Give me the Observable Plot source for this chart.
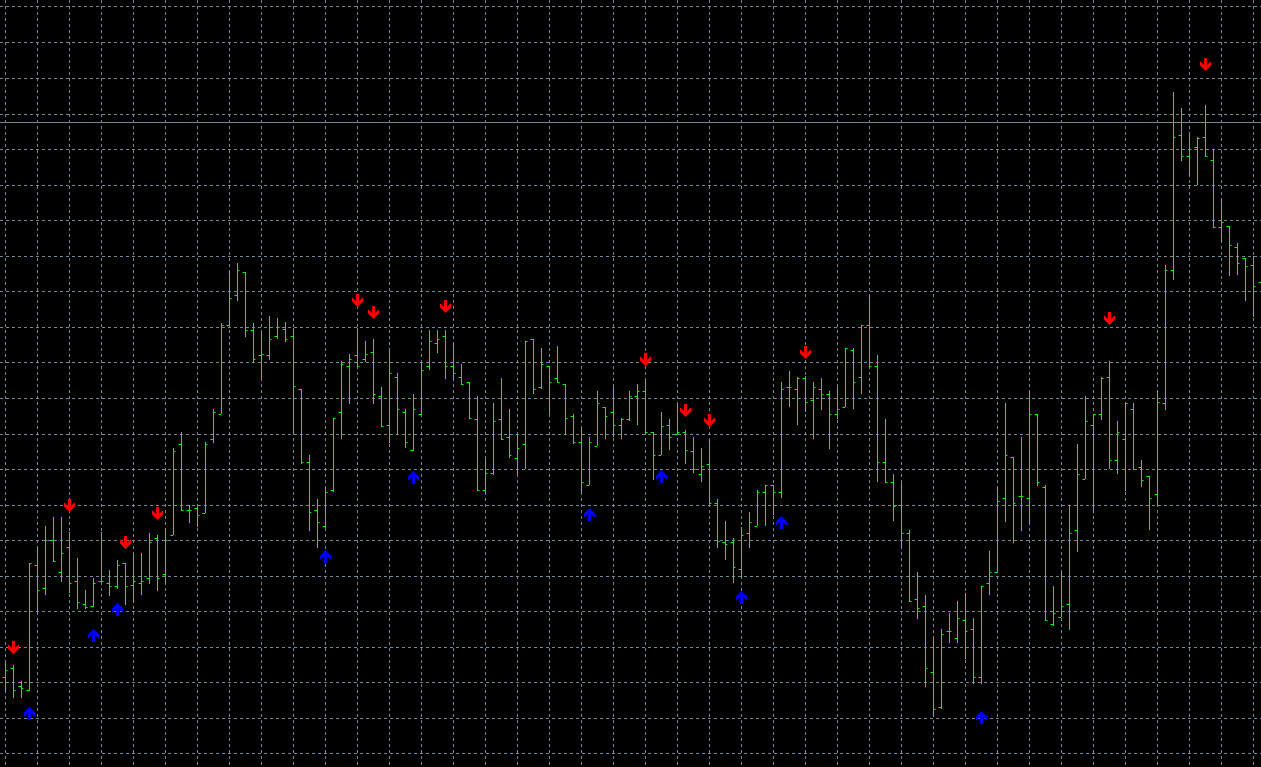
<!DOCTYPE html>
<html><head><meta charset="utf-8">
<script src="https://cdn.jsdelivr.net/npm/d3@7"></script>
<script src="https://cdn.jsdelivr.net/npm/@observablehq/plot@0.6"></script>
<style>html,body{margin:0;padding:0;background:#000;overflow:hidden}</style>
</head><body><div id="chart"></div>
<script>
// Price values (chart points), bar index 0..157
const open = [90,99,81,77,202,179,227,195,220,186,
163,161,186,184,181,204,182,184,189,229,
193,232,323,257,259,254,328,353,442,472,
495,437,412,412,431,438,431,378,305,257,
241,277,355,401,412,408,415,371,342,390,
355,317,353,401,424,431,401,390,385,348,
277,294,348,330,309,323,428,380,401,389,
383,351,325,282,321,360,355,342,348,371,
376,335,312,342,333,335,316,293,303,264,
225,225,198,234,241,275,282,275,380,378,
389,367,378,373,353,360,417,390,442,401,
305,285,262,234,168,161,95,60,136,129,
147,138,90,184,195,269,310,271,269,353,
280,143,150,163,237,288,342,353,390,307,
328,358,300,291,273,364,497,632,611,620,
630,607,540,541,520,509,502,485];
const high = [104,102,86,204,220,241,250,250,235,209,
177,189,235,197,207,204,212,214,234,232,
239,319,335,262,260,325,358,444,494,504,
495,444,434,451,449,445,439,378,312,268,
278,349,406,413,439,426,428,380,416,394,
358,373,404,437,437,437,422,403,385,371,
309,364,389,358,333,426,428,419,401,421,
383,353,338,330,376,360,380,349,376,383,
386,335,355,348,362,337,330,319,326,268,
246,229,240,255,277,282,282,385,396,390,
391,385,389,376,380,419,419,442,470,412,
348,293,284,237,195,172,129,138,154,166,
174,149,181,216,278,364,310,330,374,353,
282,181,195,262,323,371,353,390,406,346,
364,364,307,291,376,502,675,659,632,630,
662,618,566,541,524,509,511,497];
const low = [75,69,69,76,156,172,206,185,174,158,
158,160,186,171,178,162,165,172,183,176,
183,232,257,244,240,254,324,353,442,466,
430,405,389,407,428,425,334,303,236,219,
239,275,328,363,401,405,363,341,324,333,
319,316,353,397,414,388,388,383,349,277,
275,292,328,309,293,298,373,378,353,385,
333,323,275,282,321,328,330,328,346,342,
335,287,312,317,333,303,294,285,264,219,
207,184,190,219,241,241,252,269,360,342,
355,328,357,318,348,360,358,373,401,285,
285,246,220,166,148,80,51,58,124,124,
108,83,83,172,195,245,224,236,244,281,
147,141,150,137,215,288,254,347,298,293,
276,298,280,237,262,357,487,606,592,582,
611,540,526,491,492,466,450,467];
const close = [97,77,79,204,177,227,206,214,184,165,
160,184,186,181,202,181,186,186,225,189,
227,316,257,257,252,323,355,442,469,497,
437,408,413,428,440,428,381,305,255,245,
275,349,403,408,401,413,373,341,394,358,
325,358,397,426,428,401,394,383,349,277,
294,346,328,312,319,426,378,403,385,385,
349,325,285,325,364,351,342,348,371,376,
335,312,341,330,335,317,298,301,264,226,
223,200,232,245,275,282,275,378,380,389,
365,380,373,353,358,419,385,442,401,305,
285,261,234,166,159,99,58,133,136,149,
136,90,181,195,266,312,264,271,353,285,
147,154,161,234,293,346,353,389,307,335,
364,298,287,269,365,497,630,611,618,629,
611,540,545,522,504,501,481,477];

// Signal arrows: bar index and price
const sellBars = [1,8,15,19,44,46,55,80,85,88,100,138,150];
const sellPrices = [120,262,225,254,467,455,461,408,357,347,415,449,703];
const buyBars = [3,11,14,40,51,73,82,92,97,122];
const buyPrices = [54,132,158,211,290,253,291,170,245,50];

// Grid price levels and current price line
const gridPrices = [761,725,689,653,618,582,547,511,476,440,405,369,333,298,262,227,191,156,120,85,49,14];
const gridBarStep = 4;
const priceLine = 645;

const bars = open.map((o, i) => ({i, open: o, high: high[i], low: low[i], close: close[i]}));
const sells = sellBars.map((b, k) => ({i: b, price: sellPrices[k]}));
const buys = buyBars.map((b, k) => ({i: b, price: buyPrices[k]}));

const arrowDown = {draw(ctx) {
  ctx.moveTo(-1.5,-6.5); ctx.lineTo(1.5,-6.5); ctx.lineTo(1.5,0.5); ctx.lineTo(5,-3);
  ctx.lineTo(5.5,-2.5); ctx.lineTo(5.5,1); ctx.lineTo(0,6.5); ctx.lineTo(-5.5,1); ctx.lineTo(-5.5,-2.5);
  ctx.lineTo(-5,-3); ctx.lineTo(-1.5,0.5); ctx.closePath();
}};
const arrowUp = {draw(ctx) {
  ctx.moveTo(-1.5,6.5); ctx.lineTo(1.5,6.5); ctx.lineTo(1.5,-0.5); ctx.lineTo(5,3);
  ctx.lineTo(5.5,2.5); ctx.lineTo(5.5,-1); ctx.lineTo(0,-6.5); ctx.lineTo(-5.5,-1); ctx.lineTo(-5.5,2.5);
  ctx.lineTo(-5,3); ctx.lineTo(-1.5,-0.5); ctx.closePath();
}};

const grid = "#778899";
const barColor = "#00ff00";
const tickW = 0.3125;

const chart = Plot.plot({
  width: 1261,
  height: 767,
  margin: 0,
  style: {background: "#000", display: "block"},
  x: {domain: [-0.625, 157], axis: null},
  y: {domain: [0, 767], axis: null},
  marks: [
    Plot.ruleX(d3.range(0, bars.length, gridBarStep), {stroke: grid, strokeDasharray: "3,3", strokeWidth: 1}),
    Plot.ruleY(gridPrices, {stroke: grid, strokeDasharray: "3,3", strokeWidth: 1}),
    Plot.ruleY([priceLine], {stroke: grid, strokeWidth: 1}),
    Plot.ruleX(bars, {x: "i", y1: "low", y2: "high", stroke: barColor, strokeWidth: 1}),
    Plot.ruleY(bars, {y: "open", x1: d => d.i - tickW, x2: "i", stroke: barColor, strokeWidth: 1}),
    Plot.ruleY(bars, {y: "close", x1: "i", x2: d => d.i + tickW, stroke: barColor, strokeWidth: 1}),
    Plot.dot(sells, {x: "i", y: "price", symbol: arrowDown, fill: "#ff0000", stroke: null}),
    Plot.dot(buys, {x: "i", y: "price", symbol: arrowUp, fill: "#0000ff", stroke: null})
  ]
});
document.getElementById("chart").appendChild(chart);
</script>
</body></html>
